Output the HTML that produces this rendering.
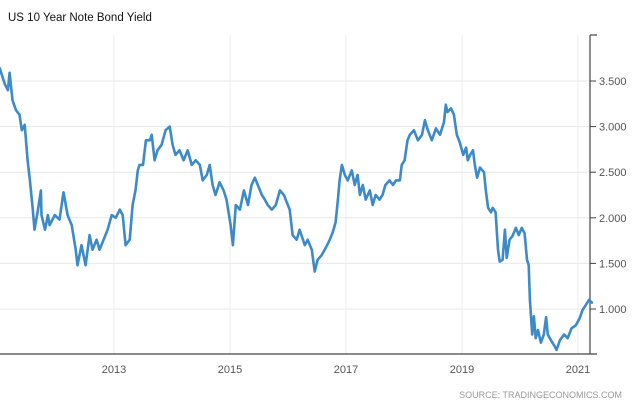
<!DOCTYPE html>
<html><head><meta charset="utf-8"><style>
body{margin:0;background:#fff;font-family:"Liberation Sans",sans-serif}
svg{display:block}
</style></head><body>
<svg id="chart" width="640" height="401" xmlns="http://www.w3.org/2000/svg">
<text x="8" y="21" font-size="11.5" fill="#111">US 10 Year Note Bond Yield</text>
<g id="grid"></g><g id="axes"></g><g id="series"></g>
<text x="622" y="398" font-size="9" fill="#999" text-anchor="end">SOURCE: TRADINGECONOMICS.COM</text>
</svg>
<script>
const dates=[2011.03,2011.12,2011.17,2011.20,2011.25,2011.31,2011.37,2011.41,2011.46,2011.51,2011.55,2011.60,2011.63,2011.69,2011.74,2011.75,2011.81,2011.86,2011.89,2011.98,
2012.06,2012.13,2012.20,2012.27,2012.34,2012.37,2012.44,2012.51,2012.58,2012.63,2012.70,2012.75,2012.82,2012.89,2012.96,
2013.03,2013.10,2013.15,2013.20,2013.27,2013.32,2013.37,2013.41,2013.44,2013.50,2013.55,2013.62,2013.65,2013.70,2013.75,2013.82,2013.89,2013.96,
2014.01,2014.06,2014.13,2014.20,2014.27,2014.34,2014.41,2014.48,2014.53,2014.60,2014.65,2014.70,2014.75,2014.82,2014.89,2014.94,
2015.01,2015.05,2015.10,2015.17,2015.24,2015.31,2015.37,2015.43,2015.48,2015.55,2015.60,2015.65,2015.72,2015.79,2015.86,2015.93,2015.96,
2016.03,2016.08,2016.15,2016.20,2016.29,2016.34,2016.41,2016.46,2016.51,2016.58,2016.65,2016.72,2016.77,2016.82,2016.86,2016.89,2016.93,2016.98,
2017.03,2017.10,2017.15,2017.20,2017.24,2017.29,2017.34,2017.41,2017.46,2017.51,2017.58,2017.63,2017.68,2017.75,2017.81,2017.86,2017.93,2017.96,
2018.01,2018.06,2018.10,2018.17,2018.24,2018.31,2018.36,2018.41,2018.48,2018.55,2018.62,2018.69,2018.72,2018.75,2018.81,2018.86,2018.91,2018.96,
2019.02,2019.07,2019.10,2019.14,2019.19,2019.22,2019.26,2019.31,2019.38,2019.41,2019.45,2019.50,2019.53,2019.58,2019.62,2019.65,2019.70,2019.74,2019.77,2019.82,2019.87,2019.93,2019.98,
2020.03,2020.08,2020.12,2020.15,2020.17,2020.21,2020.24,2020.27,2020.31,2020.36,2020.41,2020.45,2020.48,2020.53,2020.60,2020.63,2020.69,2020.76,2020.82,2020.89,2020.96,
2021.03,2021.08,2021.13,2021.19,2021.24];
const yields=[3.64,3.46,3.40,3.59,3.29,3.18,3.13,2.96,3.02,2.63,2.41,2.09,1.87,2.09,2.30,2.03,1.87,2.03,1.92,2.03,
1.98,2.28,2.03,1.92,1.65,1.48,1.70,1.48,1.81,1.65,1.76,1.65,1.76,1.87,2.03,
2.00,2.09,2.03,1.70,1.76,2.14,2.30,2.52,2.58,2.58,2.85,2.85,2.91,2.63,2.74,2.80,2.96,3.00,
2.80,2.69,2.74,2.63,2.74,2.58,2.63,2.58,2.41,2.47,2.58,2.36,2.25,2.39,2.30,2.20,
1.92,1.70,2.14,2.09,2.30,2.14,2.36,2.44,2.36,2.25,2.20,2.14,2.09,2.14,2.30,2.25,2.20,
2.09,1.81,1.76,1.87,1.70,1.76,1.65,1.41,1.54,1.59,1.67,1.76,1.84,1.95,2.20,2.41,2.58,2.47,
2.41,2.52,2.36,2.47,2.25,2.36,2.20,2.30,2.14,2.25,2.20,2.25,2.36,2.41,2.36,2.41,2.41,2.58,
2.63,2.85,2.91,2.96,2.85,2.91,3.07,2.96,2.85,2.98,2.91,3.05,3.24,3.16,3.20,3.13,2.91,2.83,
2.69,2.77,2.63,2.69,2.74,2.58,2.44,2.55,2.50,2.30,2.11,2.06,2.11,2.06,1.65,1.52,1.54,1.87,1.56,1.76,1.80,1.89,1.81,
1.89,1.83,1.54,1.48,1.10,0.72,0.92,0.68,0.77,0.63,0.72,0.91,0.72,0.66,0.59,0.55,0.66,0.72,0.68,0.79,0.82,
0.90,0.99,1.04,1.10,1.07];
const yTicks=[1.0,1.5,2.0,2.5,3.0,3.5];
const yTickLabels=["1.000","1.500","2.000","2.500","3.000","3.500"];
const xTicks=[2013,2015,2017,2019,2021];
const xTickLabels=["2013","2015","2017","2019","2021"];

const NS="http://www.w3.org/2000/svg";
const X0=0,X1=590,Y0=35,Y1=354;
function xs(t){return 462+(t-2019)*58;}
function ys(v){return 309-(v-1)*91.2;}
function mk(tag,attrs,parent){const e=document.createElementNS(NS,tag);for(const k in attrs)e.setAttribute(k,attrs[k]);parent.appendChild(e);return e;}
const grid=document.getElementById('grid'),axes=document.getElementById('axes'),series=document.getElementById('series');
yTicks.forEach((v,i)=>{
  const g=mk('line',{x1:X0,x2:X1,y1:ys(v),y2:ys(v),stroke:'#e8e8e8','stroke-width':1},grid);
  
  
  const tk=mk('line',{x1:X1,x2:X1+6,y1:ys(v),y2:ys(v),stroke:'#444','stroke-width':1},axes);
  
  
  const t=mk('text',{x:599,y:ys(v)+4,'font-size':11,fill:'#555'},axes);
  t.textContent=yTickLabels[i];
  
  
});
xTicks.forEach((yr,i)=>{
  const g=mk('line',{x1:xs(yr),x2:xs(yr),y1:Y0,y2:Y1,stroke:'#ececec','stroke-width':1},grid);
  
  
  const t=mk('text',{x:xs(yr),y:373,'font-size':11,fill:'#555','text-anchor':'middle'},axes);
  t.textContent=xTickLabels[i];
  
  
});
const ya=mk('line',{x1:X1,x2:X1,y1:Y0,y2:Y1,stroke:'#444','stroke-width':1.2},axes);


const tt=mk('line',{x1:X1,x2:X1+7,y1:Y0,y2:Y0,stroke:'#444','stroke-width':1.2},axes);


const xa=mk('line',{x1:X0,x2:X1+7,y1:Y1,y2:Y1,stroke:'#444','stroke-width':1.2},axes);


let d='';
dates.forEach((t,i)=>{d+=(i?'L':'M')+xs(t).toFixed(1)+','+ys(yields[i]).toFixed(1);});
const p=mk('path',{d:d,fill:'none',stroke:'#3d8ac8','stroke-width':2.6,'stroke-linejoin':'round','stroke-linecap':'round'},series);


</script>
</body></html>
